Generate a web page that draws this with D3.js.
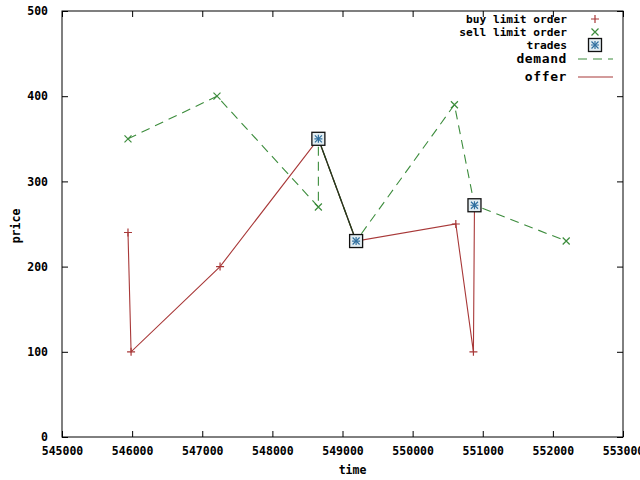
<!DOCTYPE html>
<html><head><meta charset="utf-8">
<script src="https://cdn.jsdelivr.net/npm/d3@7"></script>
<style>body{margin:0;background:#fff}svg{display:block}text{font-family:"DejaVu Sans Mono",monospace;font-weight:bold;fill:#000}</style>
</head><body>
<script>
// ---- data ----
const buyTimes  = [545941, 545985, 547254, 550616, 550867];
const buyPrices = [240, 100, 200, 250, 100];
const sellTimes  = [545941, 547210, 548656, 550596, 552190];
const sellPrices = [350, 400, 270, 390, 230];
const tradeTimes  = [548656, 549194, 550882];
const tradePrices = [350, 230, 272];
const demandTimes  = [545941, 547210, 548656, 548656, 549194, 550596, 550882, 552190];
const demandPrices = [350, 400, 270, 350, 230, 390, 272, 230];
const offerTimes  = [545941, 545985, 547254, 548656, 549194, 550616, 550867, 550882];
const offerPrices = [240, 100, 200, 350, 230, 250, 100, 272];
const xTicks = [545000, 546000, 547000, 548000, 549000, 550000, 551000, 552000, 553000];
const yTicks = [0, 100, 200, 300, 400, 500];
const legendLabels = ["buy limit order", "sell limit order", "trades", "demand", "offer"];

const W = 640, H = 480;
const L = 62, R = 623, T = 11, B = 437;
const FS = 11.5;
const svg = d3.select("body").append("svg").attr("width", W).attr("height", H);
const x = d3.scaleLinear().domain([545000, 553000]).range([L, R]);
const y = d3.scaleLinear().domain([0, 500]).range([B, T]);

const red = "#a83838", green = "#3c8c3c", dark = "#1e3a1e";

// frame
svg.append("rect").attr("x", L).attr("y", T).attr("width", R - L).attr("height", B - T)
  .attr("fill", "none").attr("stroke", "#000").attr("stroke-width", 1);

// axes (ticks inward, mirrored)
const tk = 6;
const xb = svg.append("g").attr("transform", `translate(0,${B})`)
  .call(d3.axisBottom(x).tickValues(xTicks).tickSize(-tk).tickPadding(tk + 5).tickFormat(d3.format("d")));
const xt = svg.append("g").attr("transform", `translate(0,${T})`)
  .call(d3.axisTop(x).tickValues(xTicks).tickSize(-tk).tickFormat(""));
const yl = svg.append("g").attr("transform", `translate(${L},0)`)
  .call(d3.axisLeft(y).tickValues(yTicks).tickSize(-tk).tickPadding(tk + 8).tickFormat(d3.format("d")));
const yr = svg.append("g").attr("transform", `translate(${R},0)`)
  .call(d3.axisRight(y).tickValues(yTicks).tickSize(-tk).tickFormat(""));
[xb, xt, yl, yr].forEach(g => {
  g.select(".domain").remove();
  g.selectAll("line").attr("stroke", "#000");
  g.selectAll("text").attr("font-size", FS).attr("font-family", "DejaVu Sans Mono").attr("font-weight", "bold").attr("fill", "#000");
});
xb.selectAll("text").attr("dy", "0.6em");

svg.append("text").attr("x", (L + R) / 2 + 10).attr("y", 474).attr("text-anchor", "middle").attr("font-size", FS).text("time");
svg.append("text").attr("transform", `translate(20,${(T + B) / 2 + 2}) rotate(-90)`).attr("text-anchor", "middle").attr("font-size", FS).text("price");

// lines
const line = d3.line().x(d => x(d[0])).y(d => y(d[1]));
const demand = demandTimes.map((t, i) => [t, demandPrices[i]]);
const offer = offerTimes.map((t, i) => [t, offerPrices[i]]);
svg.append("path").attr("d", line(demand)).attr("fill", "none").attr("stroke", green)
  .attr("stroke-width", 1.1).attr("stroke-dasharray", "9,6");
svg.append("path").attr("d", line(offer)).attr("fill", "none").attr("stroke", red).attr("stroke-width", 1.1);
// segment between first two trades, where demand and offer coincide
const trades = tradeTimes.map((t, i) => [t, tradePrices[i]]);
svg.append("path").attr("d", line(trades.slice(0, 2))).attr("fill", "none").attr("stroke", dark).attr("stroke-width", 1.3);

// markers
function plus(g, cx, cy, s, col) {
  g.append("path").attr("d", `M${cx - s},${cy}H${cx + s}M${cx},${cy - s}V${cy + s}`).attr("stroke", col).attr("stroke-width", 1.2);
}
function cross(g, cx, cy, s, col) {
  g.append("path").attr("d", `M${cx - s},${cy - s}L${cx + s},${cy + s}M${cx - s},${cy + s}L${cx + s},${cy - s}`).attr("stroke", col).attr("stroke-width", 1.2);
}
function trade(g, cx, cy) {
  g.append("rect").attr("x", cx - 6.5).attr("y", cy - 6.5).attr("width", 13).attr("height", 13)
    .attr("fill", "#e2edf2").attr("stroke", "#111").attr("stroke-width", 1.3);
  plus(g, cx, cy, 4, "#2f6f9f");
  cross(g, cx, cy, 3.5, "#2f6f9f");
}
const mk = svg.append("g");
buyTimes.forEach((t, i) => plus(mk, x(t), y(buyPrices[i]), 4, red));
sellTimes.forEach((t, i) => cross(mk, x(t), y(sellPrices[i]), 3.5, green));
tradeTimes.forEach((t, i) => trade(mk, x(t), y(tradePrices[i])));

// legend
const lg = svg.append("g");
const lx = 567, sx = 595;
const rows = [19, 32, 45, 59, 77];
legendLabels.forEach((lab, i) => {
  const big = i >= 3;
  lg.append("text").attr("x", lx).attr("y", rows[i] + 4).attr("text-anchor", "end")
    .attr("font-size", big ? 13 : 11.2).attr("letter-spacing", big ? 0.6 : 0)
    .attr("font-family", big ? "Liberation Mono" : "DejaVu Sans Mono").text(lab);
});
plus(lg, sx, rows[0], 4, red);
cross(lg, sx, rows[1], 3.5, green);
trade(lg, sx, rows[2]);
lg.append("line").attr("x1", 578).attr("x2", 613).attr("y1", rows[3]).attr("y2", rows[3])
  .attr("stroke", green).attr("stroke-width", 1.1).attr("stroke-dasharray", "9,6");
lg.append("line").attr("x1", 578).attr("x2", 613).attr("y1", rows[4]).attr("y2", rows[4])
  .attr("stroke", red).attr("stroke-width", 1.1);
</script>
</body></html>
